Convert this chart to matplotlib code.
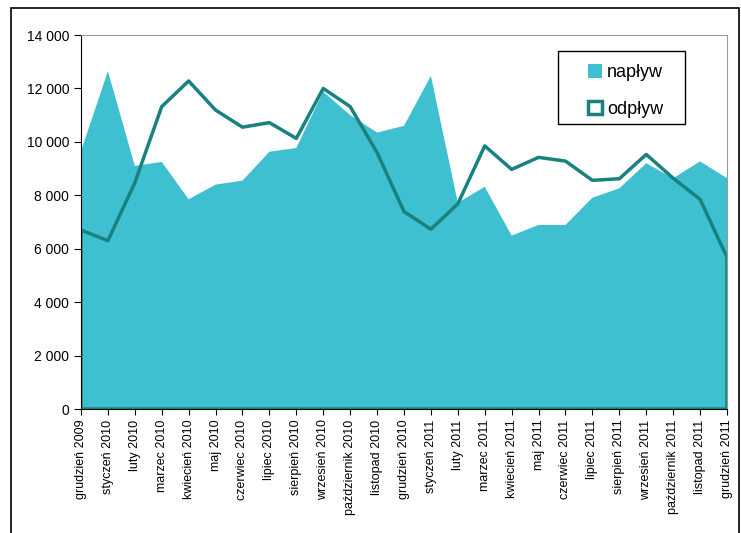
import numpy as np
import matplotlib
matplotlib.use("Agg")
from matplotlib import pyplot as plt
from matplotlib.patches import Rectangle
from matplotlib.ticker import FuncFormatter

plt.rcParams['font.family'] = ['Liberation Sans', 'DejaVu Sans']

months = ["grudzień 2009", "styczeń 2010", "luty 2010", "marzec 2010", "kwiecień 2010",
          "maj 2010", "czerwiec 2010", "lipiec 2010", "sierpień 2010", "wrzesień 2010",
          "październik 2010", "listopad 2010", "grudzień 2010", "styczeń 2011", "luty 2011",
          "marzec 2011", "kwiecień 2011", "maj 2011", "czerwiec 2011", "lipiec 2011",
          "sierpień 2011", "wrzesień 2011", "październik 2011", "listopad 2011", "grudzień 2011"]

naplyw = [9650, 12650, 9100, 9250, 7850, 8400, 8550, 9630, 9770, 11880,
          11000, 10350, 10600, 12470, 7720, 8320, 6490, 6890, 6890, 7910,
          8260, 9200, 8640, 9270, 8640]

odplyw = [6700, 6300, 8470, 11320, 12280, 11190, 10550, 10720, 10130, 12000,
          11320, 9600, 7390, 6730, 7680, 9850, 8970, 9420, 9280, 8560,
          8620, 9530, 8640, 7850, 5680]

fill_col = '#3EC0D1'
line_col = '#18827F'

fig = plt.figure(figsize=(7.41, 5.33), dpi=100)
ax = fig.add_axes([0.1093, 0.2326, 0.8718, 0.7017])

x = np.arange(len(months))
ax.fill_between(x, naplyw, 0, facecolor=fill_col, edgecolor='none', label='napływ')
ax.fill_between(x, odplyw, 0, facecolor='none', edgecolor=line_col, linewidth=2.5,
                label='odpływ')

ax.set_xlim(0, len(months) - 1)
ax.set_ylim(0, 14000)
ax.set_yticks(np.arange(0, 14001, 2000))
ax.yaxis.set_major_formatter(FuncFormatter(lambda v, p: f"{int(v):,}".replace(",", " ")))
ax.set_xticks(x)
ax.set_xticklabels(months, rotation=90, fontsize=9)
ax.tick_params(axis='y', labelsize=10, length=5, direction='out')
ax.tick_params(axis='x', length=4, direction='out')

for s in ['left', 'bottom']:
    ax.spines[s].set_color('black')
for s in ['top', 'right']:
    ax.spines[s].set_color('#999999')

# legend frame drawn by hand so the padding can differ per side
ax.add_patch(Rectangle((0.738, 0.762), 0.197, 0.195, transform=ax.transAxes,
                       fill=False, edgecolor='black', linewidth=1.0, zorder=5))
leg = ax.legend(loc='upper left', bbox_to_anchor=(0.785, 0.922), borderaxespad=0,
                borderpad=0, fontsize=13, frameon=False, handlelength=0.75,
                handleheight=0.75, handletextpad=0.3, labelspacing=1.1)

fig.patches.append(Rectangle((0.0148, -0.05), 0.982, 1.035, transform=fig.transFigure,
                             fill=False, edgecolor='black', linewidth=1.2))

fig.savefig("out.png", dpi=100)
